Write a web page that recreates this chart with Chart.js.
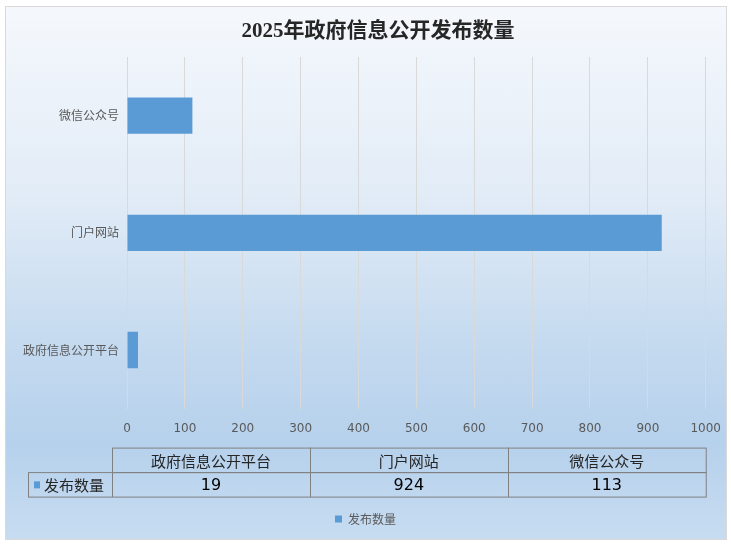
<!DOCTYPE html>
<html>
<head>
<meta charset="utf-8">
<script src="https://cdn.jsdelivr.net/npm/chart.js@4/dist/chart.umd.min.js"></script>
<style>
  body { margin: 0; background: #ffffff; }
  #box {
    position: absolute; left: 5px; top: 6px; width: 720px; height: 532px;
    border: 1px solid #d9d9d9;
    background: linear-gradient(to bottom, #f5f8fc 0%, #e2ecf7 35%, #c3d9ef 65%, #b6d1ec 82%, #c7dcf1 100%);
  }
</style>
</head>
<body>
<div id="box"><canvas id="chart"></canvas></div>
<script>
// Chart data
const chartTitle = '2025年政府信息公开发布数量';
const categories = ['政府信息公开平台', '门户网站', '微信公众号'];
const seriesName = '发布数量';
const seriesValues = [19, 924, 113];
const barColor = '#5b9bd5';
const cjk = '"Noto Sans CJK SC", sans-serif';

// Draws the title (a bit right of centre, like the original) and the data table under the x axis
const dataTablePlugin = {
    id: 'dataTable',
    afterDraw(chart) {
        const ctx = chart.ctx;
        const area = chart.chartArea;
        const left = area.left - 15;
        const right = area.right;
        const top = area.bottom + 39;
        const rowH = 24.5;
        const colW = (right - left) / categories.length;
        const labelLeft = 22;

        ctx.save();
        ctx.fillStyle = '#262626';
        ctx.textAlign = 'center';
        ctx.textBaseline = 'middle';
        ctx.font = 'bold 21px "Liberation Serif", "Noto Sans CJK SC", serif';
        ctx.fillText(chartTitle, chart.width / 2 + 12, 25);

        ctx.strokeStyle = '#808080';
        ctx.lineWidth = 1;

        // header row
        ctx.strokeRect(left + 0.5, top + 0.5, right - left, rowH);
        // data row including label cell
        ctx.strokeRect(labelLeft + 0.5, top + rowH + 0.5, right - labelLeft, rowH);
        ctx.beginPath();
        ctx.moveTo(left + 0.5, top + rowH);
        ctx.lineTo(left + 0.5, top + rowH * 2 + 0.5);
        for (let i = 1; i < categories.length; i++) {
            const x = Math.round(left + colW * i) + 0.5;
            ctx.moveTo(x, top);
            ctx.lineTo(x, top + rowH * 2 + 0.5);
        }
        ctx.stroke();

        categories.forEach((c, i) => {
            ctx.fillStyle = '#262626';
            ctx.font = '15px ' + cjk;
            ctx.fillText(c, left + colW * (i + 0.5), top + rowH / 2 + 1);
            ctx.fillStyle = '#000000';
            ctx.font = '16px "DejaVu Sans", sans-serif';
            ctx.fillText(String(seriesValues[i]), left + colW * (i + 0.5), top + rowH * 1.5 + 1);
        });

        // series key in the label cell
        ctx.fillStyle = barColor;
        ctx.fillRect(labelLeft + 6, top + rowH * 1.5 - 3, 6, 7);
        ctx.fillStyle = '#262626';
        ctx.textAlign = 'left';
        ctx.font = '15px ' + cjk;
        ctx.fillText(seriesName, labelLeft + 16, top + rowH * 1.5 + 1);
        ctx.restore();
    }
};

new Chart(document.getElementById('chart'), {
    type: 'bar',
    data: {
        labels: categories,
        datasets: [{
            label: seriesName,
            data: seriesValues,
            backgroundColor: barColor,
            borderWidth: 0,
            barPercentage: 0.31,
            categoryPercentage: 1
        }]
    },
    options: {
        indexAxis: 'y',
        responsive: true,
        maintainAspectRatio: false,
        animation: false,
        layout: { padding: { left: 0, right: 1, top: 50, bottom: 4 } },
        scales: {
            x: {
                min: 0,
                max: 1000,
                ticks: {
                    stepSize: 100,
                    color: '#595959',
                    font: { size: 12, family: '"DejaVu Sans", sans-serif' },
                    padding: 5,
                    callback: (v) => String(v)
                },
                grid: { color: '#d9d9d9', tickColor: 'rgba(0,0,0,0)', tickLength: 8 },
                border: { display: false },
                afterFit(scale) { scale.height += 64; }
            },
            y: {
                reverse: true,
                ticks: {
                    color: '#595959',
                    font: { size: 12, family: cjk },
                    padding: 8
                },
                grid: { display: false, drawTicks: false },
                border: { display: false },
                afterFit(scale) { scale.width = 121; }
            }
        },
        plugins: {
            title: { display: false },
            legend: {
                position: 'bottom',
                labels: {
                    boxWidth: 7,
                    boxHeight: 7,
                    color: '#595959',
                    font: { size: 12, family: cjk },
                    padding: 8
                }
            },
            tooltip: { enabled: false }
        }
    },
    plugins: [dataTablePlugin]
});
</script>
</body>
</html>
